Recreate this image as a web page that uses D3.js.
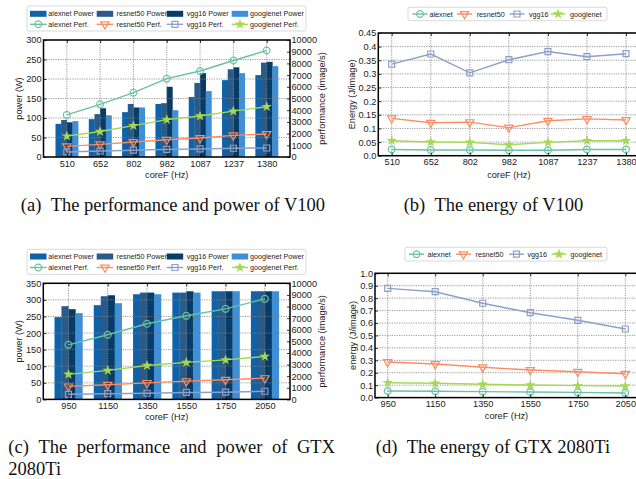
<!DOCTYPE html>
<html><head><meta charset="utf-8">
<script src="https://cdn.jsdelivr.net/npm/d3@7"></script>
<style>body{margin:0;background:#fff}svg{display:block}</style>
</head><body>
<svg id="chart" width="636" height="479"></svg>
<script>
// ---------------- data ----------------
const models = ["alexnet", "resnet50", "vgg16", "googlenet"];
const v100Freq = ["510", "652", "802", "982", "1087", "1237", "1380"];
const gtxFreq = ["950", "1150", "1350", "1550", "1750", "2050"];

const v100PowerAlexnet   = [85, 97, 115, 136, 154, 197, 210];
const v100PowerResnet50  = [95, 110, 136, 138, 190, 225, 242];
const v100PowerVgg16     = [89, 125, 127, 180, 215, 230, 244];
const v100PowerGooglenet = [92, 107, 127, 120, 169, 215, 233];

const v100PerfAlexnet   = [3600, 4500, 5500, 6700, 7350, 8250, 9100];
const v100PerfResnet50  = [910, 1080, 1280, 1480, 1620, 1850, 1970];
const v100PerfVgg16     = [430, 510, 580, 650, 690, 750, 770];
const v100PerfGooglenet = [1780, 2180, 2680, 3190, 3500, 3920, 4300];

const v100EnergyAlexnet   = [0.023, 0.021, 0.021, 0.020, 0.020, 0.023, 0.023];
const v100EnergyResnet50  = [0.137, 0.121, 0.123, 0.103, 0.128, 0.135, 0.131];
const v100EnergyVgg16     = [0.336, 0.373, 0.304, 0.352, 0.382, 0.363, 0.374];
const v100EnergyGooglenet = [0.055, 0.050, 0.049, 0.040, 0.049, 0.055, 0.055];

const gtxPowerAlexnet   = [248, 284, 317, 322, 326, 326];
const gtxPowerResnet50  = [281, 311, 322, 322, 326, 326];
const gtxPowerVgg16     = [272, 314, 322, 326, 326, 326];
const gtxPowerGooglenet = [260, 290, 317, 322, 326, 326];

const gtxPerfAlexnet   = [4700, 5570, 6520, 7200, 7800, 8660];
const gtxPerfResnet50  = [1120, 1260, 1420, 1570, 1690, 1830];
const gtxPerfVgg16     = [440, 490, 530, 600, 620, 700];
const gtxPerfGooglenet = [2160, 2500, 2920, 3190, 3400, 3700];

const gtxEnergyAlexnet   = [0.053, 0.051, 0.048, 0.045, 0.042, 0.037];
const gtxEnergyResnet50  = [0.286, 0.270, 0.244, 0.222, 0.208, 0.192];
const gtxEnergyVgg16     = [0.879, 0.852, 0.759, 0.683, 0.622, 0.552];
const gtxEnergyGooglenet = [0.120, 0.115, 0.107, 0.101, 0.096, 0.093];

const powerTicksV100 = d3.range(0, 301, 50);
const powerTicksGtx = d3.range(0, 351, 50);
const perfTicks = d3.range(0, 10001, 1000);
const energyTicksV100 = d3.range(0, 10).map(i => i * 0.05);
const energyTicksGtx = d3.range(0, 11).map(i => i * 0.1);

// ---------------- style ----------------
const barColors = {alexnet: "#0f61a8", resnet50: "#2a5a87", vgg16: "#073c68", googlenet: "#3e8fd5"};
const lineColors = {alexnet: "#66c2a5", resnet50: "#fc8d62", vgg16: "#8da0cb", googlenet: "#a6d854"};
const FONT = "'Liberation Sans', Arial, sans-serif";
const SERIF = "'Liberation Serif', 'Times New Roman', serif";
const TICK_FS = 9.2, LEG_FS = 7.2;

const svg = d3.select("#chart");

function markerPath(m) {
  const defs = {
    alexnet: d3.symbol(d3.symbolCircle, 36),
    resnet50: d3.symbol(d3.symbolTriangle, 30),
    vgg16: d3.symbol(d3.symbolSquare, 36),
    googlenet: d3.symbol(d3.symbolStar, 15)
  };
  return defs[m]();
}
function drawMarker(g, m, cx, cy) {
  g.append("path")
    .attr("d", markerPath(m))
    .attr("transform", `translate(${cx},${cy})` + (m === "resnet50" ? " rotate(180)" : ""))
    .attr("fill", m === "googlenet" ? lineColors[m] : "none")
    .attr("stroke", lineColors[m])
    .attr("stroke-width", 1.2);
}

function drawPanel(o) {
  const g = svg.append("g");
  const x = d3.scalePoint().domain(o.cats).range([o.left, o.right]).padding(o.pad);
  const y = d3.scaleLinear().domain([o.yTicks[0], o.yTicks[o.yTicks.length - 1]]).range([o.bottom, o.top]);
  const y2 = o.y2Ticks ? d3.scaleLinear().domain([0, o.y2Ticks[o.y2Ticks.length - 1]]).range([o.bottom, o.top]) : null;
  const lineScale = o.linesOnY2 ? y2 : y;

  // bars
  if (o.bars) {
    const groupW = x.step() * o.groupFrac;
    const xb = d3.scaleBand().domain(models).range([-groupW / 2, groupW / 2]);
    o.cats.forEach((c, i) => {
      models.forEach(m => {
        const v = o.bars[m][i];
        g.append("rect")
          .attr("x", x(c) + xb(m)).attr("width", xb.bandwidth() + 0.3)
          .attr("y", y(v)).attr("height", o.bottom - y(v))
          .attr("fill", barColors[m]);
      });
    });
  }

  // grid
  const grid = g.append("g").attr("stroke", "#808080").attr("stroke-width", 0.8).attr("stroke-dasharray", "1.2,1.2");
  o.cats.forEach(c => grid.append("line").attr("x1", x(c)).attr("x2", x(c)).attr("y1", o.top).attr("y2", o.bottom));
  o.yTicks.forEach(t => grid.append("line").attr("x1", o.left).attr("x2", o.right).attr("y1", y(t)).attr("y2", y(t)));

  // lines
  const line = d3.line().x((d, i) => x(o.cats[i])).y(d => lineScale(d));
  models.forEach(m => {
    g.append("path").datum(o.lines[m]).attr("d", line)
      .attr("fill", "none").attr("stroke", lineColors[m]).attr("stroke-width", 1.4);
  });
  models.forEach(m => {
    o.lines[m].forEach((v, i) => drawMarker(g, m, x(o.cats[i]), lineScale(v)));
  });

  // frame
  g.append("rect").attr("x", o.left).attr("y", o.top)
    .attr("width", o.right - o.left).attr("height", o.bottom - o.top)
    .attr("fill", "none").attr("stroke", "#000").attr("stroke-width", 1.5);

  // axes
  const styleAxis = sel => {
    sel.select(".domain").remove();
    sel.selectAll("text").attr("font-family", FONT).attr("font-size", TICK_FS).attr("fill", "#222");
    sel.selectAll("line").attr("stroke", "#000").attr("stroke-width", 0.8);
  };
  g.append("g").attr("transform", `translate(0,${o.bottom})`)
    .call(d3.axisBottom(x).tickSize(-3).tickPadding(3)).call(styleAxis);
  g.append("g").attr("transform", `translate(0,${o.top})`)
    .call(d3.axisTop(x).tickSize(-3).tickFormat("")).call(styleAxis);
  g.append("g").attr("transform", `translate(${o.left},0)`)
    .call(d3.axisLeft(y).tickValues(o.yTicks).tickFormat(o.yFmt).tickSize(-3).tickPadding(2)).call(styleAxis);
  if (y2) {
    g.append("g").attr("transform", `translate(${o.right},0)`)
      .call(d3.axisRight(y2).tickValues(o.y2Ticks).tickFormat(d3.format("d")).tickSize(-3).tickPadding(1.5)).call(styleAxis);
  }

  // axis labels
  g.append("text").attr("x", (o.left + o.right) / 2).attr("y", o.xLabelY)
    .attr("text-anchor", "middle").attr("font-family", FONT).attr("font-size", TICK_FS).attr("fill", "#222")
    .text("coreF (Hz)");
  const cy = (o.top + o.bottom) / 2;
  g.append("text").attr("transform", `translate(${o.yLabelX},${cy}) rotate(-90)`)
    .attr("text-anchor", "middle").attr("dominant-baseline", "central")
    .attr("font-family", FONT).attr("font-size", TICK_FS).attr("fill", "#222").text(o.yLabel);
  if (o.y2Label) {
    g.append("text").attr("transform", `translate(${o.y2LabelX},${cy}) rotate(-90)`)
      .attr("text-anchor", "middle").attr("dominant-baseline", "central")
      .attr("font-family", FONT).attr("font-size", TICK_FS).attr("fill", "#222").text(o.y2Label);
  }
}

function drawLegend(o) {
  const g = svg.append("g");
  g.append("rect").attr("x", o.x).attr("y", o.y).attr("width", o.w).attr("height", o.h).attr("rx", 2)
    .attr("fill", "#fff").attr("fill-opacity", 0.85).attr("stroke", "#cfcfcf").attr("stroke-width", 0.8);
  o.rows.forEach(row => {
    models.forEach((m, j) => {
      const hx = o.hx[j], tx = o.tx[j], ry = row.y;
      if (row.kind === "bar") {
        g.append("rect").attr("x", hx).attr("y", ry - 3).attr("width", o.hw).attr("height", 6).attr("fill", barColors[m]);
      } else {
        g.append("line").attr("x1", hx).attr("x2", hx + o.hw).attr("y1", ry).attr("y2", ry)
          .attr("stroke", lineColors[m]).attr("stroke-width", 1.4);
        drawMarker(g, m, hx + o.hw / 2, ry);
      }
      g.append("text").attr("x", tx).attr("y", ry).attr("dominant-baseline", "central")
        .attr("font-family", FONT).attr("font-size", LEG_FS).attr("fill", "#222")
        .text(row.kind === "bar" ? `${m} Power` : (row.kind === "perf" ? `${m} Perf.` : m));
    });
  });
}

function caption(txt, cx, by) {
  svg.append("text").attr("x", cx).attr("y", by).attr("text-anchor", "middle")
    .attr("font-family", SERIF).attr("font-size", 18.5).attr("fill", "#111")
    .text(txt);
}
function justifiedLine(words, x0, x1, by) {
  const g = svg.append("g").attr("font-family", SERIF).attr("font-size", 18.5).attr("fill", "#111");
  const nodes = words.map(w => g.append("text").attr("y", by).text(w));
  const widths = nodes.map(n => n.node().getComputedTextLength());
  const gap = ((x1 - x0) - d3.sum(widths)) / (words.length - 1);
  let cx = x0;
  nodes.forEach((n, i) => { n.attr("x", cx); cx += widths[i] + gap; });
}

// ---------------- panels ----------------
drawPanel({
  cats: v100Freq, left: 43.5, right: 290, top: 40, bottom: 157, pad: 0.7,
  yTicks: powerTicksV100, yFmt: d3.format("d"), y2Ticks: perfTicks, linesOnY2: true,
  groupFrac: 0.68,
  bars: {alexnet: v100PowerAlexnet, resnet50: v100PowerResnet50, vgg16: v100PowerVgg16, googlenet: v100PowerGooglenet},
  lines: {alexnet: v100PerfAlexnet, resnet50: v100PerfResnet50, vgg16: v100PerfVgg16, googlenet: v100PerfGooglenet},
  xLabelY: 177.5, yLabel: "power (W)", yLabelX: 18.5, y2Label: "performance (image/s)", y2LabelX: 321.5
});
drawPanel({
  cats: v100Freq, left: 378.3, right: 639.4, top: 33, bottom: 155.7, pad: 0.343,
  yTicks: energyTicksV100, yFmt: d => d === 0 ? "0.0" : String(+d.toFixed(2)),
  lines: {alexnet: v100EnergyAlexnet, resnet50: v100EnergyResnet50, vgg16: v100EnergyVgg16, googlenet: v100EnergyGooglenet},
  xLabelY: 177.5, yLabel: "Energy (J/image)", yLabelX: 351.5
});
drawPanel({
  cats: gtxFreq, left: 43.3, right: 290, top: 283.3, bottom: 399.4, pad: 0.64,
  yTicks: powerTicksGtx, yFmt: d3.format("d"), y2Ticks: perfTicks, linesOnY2: true,
  groupFrac: 0.71,
  bars: {alexnet: gtxPowerAlexnet, resnet50: gtxPowerResnet50, vgg16: gtxPowerVgg16, googlenet: gtxPowerGooglenet},
  lines: {alexnet: gtxPerfAlexnet, resnet50: gtxPerfResnet50, vgg16: gtxPerfVgg16, googlenet: gtxPerfGooglenet},
  xLabelY: 420, yLabel: "power (W)", yLabelX: 18.5, y2Label: "performance (image/s)", y2LabelX: 322
});
drawPanel({
  cats: gtxFreq, left: 375, right: 638, top: 273.3, bottom: 397.6, pad: 0.267,
  yTicks: energyTicksGtx, yFmt: d3.format(".1f"),
  lines: {alexnet: gtxEnergyAlexnet, resnet50: gtxEnergyResnet50, vgg16: gtxEnergyVgg16, googlenet: gtxEnergyGooglenet},
  xLabelY: 419, yLabel: "energy (J/image)", yLabelX: 352.5
});

// ---------------- legends ----------------
const bigHx = [30, 96.7, 166.7, 231.7], bigTx = [48.3, 116.5, 186.7, 250];
drawLegend({x: 27, y: 6, w: 279, h: 25, hw: 16.5, hx: bigHx, tx: bigTx,
  rows: [{kind: "bar", y: 13.8}, {kind: "perf", y: 24.3}]});
drawLegend({x: 27, y: 249.3, w: 279, h: 25, hw: 16.5, hx: bigHx, tx: bigTx,
  rows: [{kind: "bar", y: 256.5}, {kind: "perf", y: 267.5}]});
drawLegend({x: 408, y: 7.3, w: 199, h: 13.4, hw: 15, hx: [412.5, 457, 509.5, 550.5], tx: [429.5, 476.7, 529, 570],
  rows: [{kind: "name", y: 14}]});
drawLegend({x: 405, y: 247.3, w: 202, h: 13.7, hw: 15, hx: [409, 456, 509, 551.5], tx: [427.5, 475.5, 527.5, 570.5],
  rows: [{kind: "name", y: 254.2}]});

// ---------------- captions ----------------
caption("(a)\u00a0\u00a0The performance and power of V100", 173, 210.7);
caption("(b)\u00a0\u00a0The energy of V100", 493.5, 210.7);
justifiedLine(["(c)", "The", "performance", "and", "power", "of", "GTX"], 8.3, 335, 453.3);
svg.append("text").attr("x", 8.3).attr("y", 475).attr("font-family", SERIF).attr("font-size", 18.5)
  .attr("fill", "#111").text("2080Ti");
caption("(d)\u00a0\u00a0The energy of GTX 2080Ti", 493, 452.7);
</script>
</body></html>
